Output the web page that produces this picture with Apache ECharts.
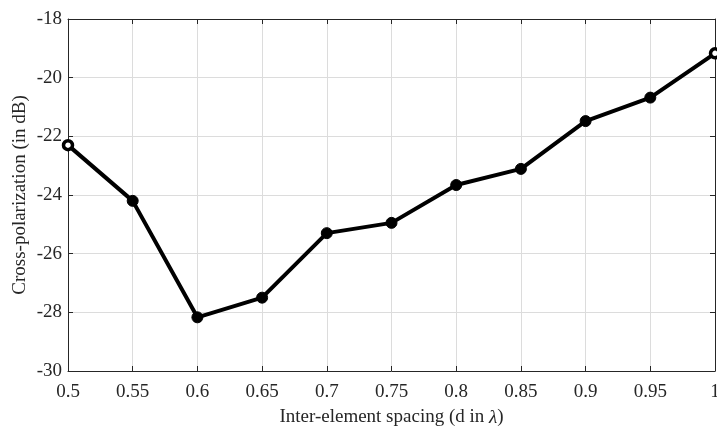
<!DOCTYPE html>
<html>
<head>
<meta charset="utf-8">
<script src="https://cdn.jsdelivr.net/npm/echarts@6/dist/echarts.min.js"></script>
<style>html,body{margin:0;padding:0;background:#fff;}#c{width:717px;height:428px;}</style>
</head>
<body>
<div id="c"></div>
<script>
const spacing = [0.5, 0.55, 0.6, 0.65, 0.7, 0.75, 0.8, 0.85, 0.9, 0.95, 1.0];
const crossPol = [-22.3, -24.2, -28.17, -27.5, -25.3, -24.95, -23.66, -23.11, -21.48, -20.68, -19.17];
const xTicks = {min: 0.5, max: 1, interval: 0.05};
const yTicks = {min: -30, max: -18, interval: 2};

const chart = echarts.init(document.getElementById('c'), null, {renderer: 'canvas'});
const font = 'Liberation Serif, Times New Roman, serif';
const txt = '#262626';
const seriesData = spacing.map((x, i) => {
  const d = {value: [x, crossPol[i]]};
  if (i === 0 || i === spacing.length - 1) {
    d.itemStyle = {color: '#fff', borderColor: '#000', borderWidth: 3.5};
    d.symbolSize = 9;
  }
  return d;
});
const fmtX = v => String(parseFloat(v.toFixed(2)));
const baseAxisLine = {show: true, lineStyle: {color: '#262626', width: 1}};
const tick = {show: true, inside: true, length: 5, lineStyle: {color: '#262626'}};
chart.setOption({
  animation: false,
  backgroundColor: '#fff',
  grid: {left: 68, right: 2, top: 19, bottom: 57, containLabel: false, outerBoundsMode: 'none'},
  xAxis: [{
    type: 'value', min: xTicks.min, max: xTicks.max, interval: xTicks.interval,
    position: 'bottom',
    axisLine: baseAxisLine,
    axisTick: tick,
    axisLabel: {color: txt, fontFamily: font, fontSize: 19, margin: 12, formatter: fmtX},
    splitLine: {show: true, lineStyle: {color: '#dcdcdc', width: 1}},
    name: '{a|Inter-element spacing (d in }{b|λ}{a|)}',
    nameLocation: 'middle', nameGap: 37, nameMoveOverlap: false,
    nameTextStyle: {rich: {a: {fontFamily: font, fontSize: 19, color: txt}, b: {fontFamily: font, fontSize: 19, fontStyle: 'italic', color: txt}}}
  }, {
    type: 'value', min: xTicks.min, max: xTicks.max, interval: xTicks.interval,
    position: 'top',
    axisLine: baseAxisLine,
    axisTick: tick,
    axisLabel: {show: false}, splitLine: {show: false}
  }],
  yAxis: [{
    type: 'value', min: yTicks.min, max: yTicks.max, interval: yTicks.interval,
    position: 'left',
    axisLine: baseAxisLine,
    axisTick: tick,
    axisLabel: {color: txt, fontFamily: font, fontSize: 19, margin: 6},
    splitLine: {show: true, lineStyle: {color: '#dcdcdc', width: 1}},
    name: 'Cross-polarization (in dB)',
    nameLocation: 'middle', nameGap: 38, nameMoveOverlap: false,
    nameTextStyle: {fontFamily: font, fontSize: 19, color: txt}
  }, {
    type: 'value', min: yTicks.min, max: yTicks.max, interval: yTicks.interval,
    position: 'right',
    axisLine: baseAxisLine,
    axisTick: tick,
    axisLabel: {show: false}, splitLine: {show: false}
  }],
  series: [{
    type: 'line',
    data: seriesData,
    lineStyle: {color: '#000', width: 4},
    itemStyle: {color: '#000', borderColor: '#000', borderWidth: 1},
    symbol: 'circle', symbolSize: 11, showSymbol: true,
    clip: false
  }]
});
</script>
</body>
</html>
